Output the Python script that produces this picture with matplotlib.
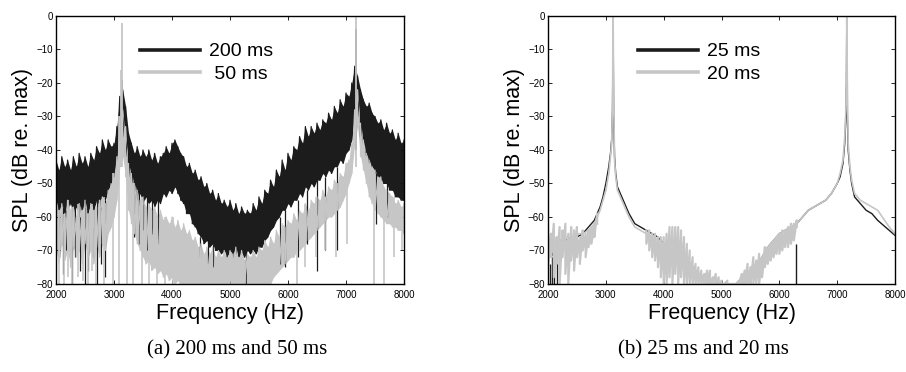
import numpy as np
import matplotlib
matplotlib.use('Agg')
import matplotlib.pyplot as plt

plt.rcParams['font.family'] = ['Liberation Sans', 'DejaVu Sans']

BLACK = '#1c1c1c'
GRAY = '#c6c6c6'

# ---------- (a) 200 ms / 50 ms : envelopes read every 50 Hz ----------
freq_a = list(range(2000, 8001, 50))

ms200_hi = [-43, -46, -42, -45, -43, -46, -42, -45, -41, -44,
            -42, -45, -41, -43, -39, -41, -37, -40, -37, -39,
            -38, -33, -24, -22, -27, -35, -38, -41, -39, -42,
            -40, -42, -40, -43, -41, -44, -42, -41, -39, -41,
            -38, -37, -39, -41, -42, -45, -44, -47, -46, -49,
            -48, -51, -50, -53, -52, -55, -53, -56, -55, -57,
            -55, -58, -56, -59, -57, -59, -58, -59, -56, -58,
            -54, -56, -52, -53, -49, -51, -46, -48, -43, -46,
            -41, -43, -39, -40, -36, -38, -33, -36, -33, -35,
            -32, -34, -31, -32, -29, -31, -27, -29, -25, -27,
            -23, -24, -20, -15, -18, -22, -25, -27, -26, -29,
            -30, -32, -31, -34, -32, -35, -34, -37, -35, -38, -37]
ms200_lo = [-56, -59, -57, -60, -58, -56, -59, -57, -60, -58,
            -57, -59, -56, -58, -55, -57, -54, -55, -52, -50,
            -48, -44, -38, -36, -42, -48, -51, -53, -55, -53,
            -56, -54, -56, -55, -57, -55, -56, -53, -54, -52,
            -53, -51, -53, -55, -56, -59, -59, -62, -63, -65,
            -66, -68, -67, -69, -68, -70, -70, -71, -70, -72,
            -70, -72, -71, -72, -71, -72, -70, -71, -70, -71,
            -69, -69, -67, -66, -64, -63, -61, -60, -58, -58,
            -56, -57, -55, -55, -53, -54, -51, -52, -50, -51,
            -49, -49, -47, -48, -46, -47, -45, -45, -43, -44,
            -41, -40, -37, -30, -30, -36, -39, -42, -44, -45,
            -47, -48, -49, -50, -50, -52, -52, -54, -54, -55, -55]
ms200_peaks_f = [3140, 7170]
ms200_peaks_db = [-19, -4]
ms200_dips_f = [2060, 2120, 2180, 2270, 2330, 2420, 2500, 2560, 2640,
                2700, 2770, 2840, 3350, 3430, 3500, 3570, 3660, 3760,
                4480, 4620, 4700, 5280, 5860, 5950, 6170, 6330, 6500,
                6640, 6840, 7520, 7700]
ms200_dips_db = [-72, -77, -70, -80, -72, -76, -80, -76, -72,
                 -80, -74, -78, -66, -68, -64, -70, -65, -68,
                 -72, -74, -75, -80, -74, -75, -72, -68, -76,
                 -70, -70, -62, -60]

ms50_hi = [-55, -58, -56, -59, -55, -58, -57, -60, -56, -58,
           -55, -59, -56, -58, -57, -55, -54, -56, -52, -50,
           -47, -42, -30, -28, -33, -44, -47, -50, -52, -55,
           -54, -57, -56, -58, -57, -60, -58, -61, -60, -62,
           -60, -63, -61, -64, -62, -65, -64, -67, -66, -69,
           -68, -71, -69, -71, -69, -72, -70, -72, -70, -72,
           -70, -71, -69, -72, -70, -73, -71, -72, -70, -72,
           -69, -70, -67, -69, -66, -68, -64, -66, -62, -63,
           -61, -62, -59, -61, -58, -59, -56, -58, -55, -56,
           -54, -55, -52, -54, -51, -52, -49, -50, -47, -48,
           -44, -43, -38, -28, -22, -32, -37, -41, -43, -45,
           -46, -48, -48, -51, -52, -53, -54, -56, -55, -57, -56]
ms50_lo = ([-70, -74, -68, -73, -70, -75, -69, -72, -70, -74,
            -68, -72, -70, -74, -69, -72, -68, -70, -65, -63,
            -60, -55, -45, -42, -48, -58, -62, -65, -68, -70,
            -72, -74, -73, -76, -75, -77, -76, -78, -77, -79,
            -78, -80, -79]
           + [-80] * 32
           + [-78, -77, -76, -75, -74, -73, -72, -72, -70, -70,
              -69, -68, -67, -66, -65, -64, -63, -62, -61, -60,
              -60, -59, -58, -57, -55, -53, -50, -47, -38, -33,
              -42, -46, -50, -54, -56, -58, -59, -60, -61, -62,
              -62, -63, -63, -64, -64, -65])
ms50_peaks_f = [3128, 3140, 7167]
ms50_peaks_db = [-16, -2, 0]
ms50_dips_f = [2050, 2130, 2210, 2280, 2380, 2470, 2560, 2620, 2690,
               2820, 2990, 3090, 3230, 3330, 3480, 3610, 3740, 3880,
               4010, 4130, 6160, 6300, 6480, 6640, 6830, 7010, 7490,
               7660, 7820, 7960]
ms50_dips_db = [-80, -80, -78, -80, -78, -79, -80, -76, -80,
                -80, -80, -80, -80, -80, -80, -80, -80, -80,
                -80, -80, -80, -75, -72, -70, -72, -68, -80,
                -80, -72, -70]

# ---------- (b) 25 ms / 20 ms : main curves ----------
freq_b = [2000, 2100, 2200, 2300, 2400, 2500, 2600, 2700, 2800, 2900,
          2950, 3000, 3050, 3080, 3100, 3115, 3125, 3135, 3150, 3170,
          3200, 3250, 3300, 3400, 3500, 3600, 3700, 3800, 3900, 4000,
          4100, 4200, 4300, 4400, 4500, 4600, 4700, 4800, 4900, 5000,
          5100, 5200, 5300, 5400, 5500, 5600, 5700, 5800, 5900, 6000,
          6100, 6200, 6300, 6400, 6500, 6600, 6700, 6800, 6900, 7000,
          7050, 7100, 7130, 7150, 7160, 7165, 7175, 7190, 7220, 7250,
          7300, 7400, 7500, 7600, 7700, 7800, 7900, 8000]
ms25_db = [-68, -72, -67, -67, -66, -66, -65, -63, -61, -57,
           -54, -50, -45, -41, -37, -28, -3, -30, -42, -47,
           -51, -53, -55, -59, -62, -63, -64, -65, -66, -68,
           -69, -70, -71, -73, -75, -77, -78, -80, -80, -80,
           -80, -80, -80, -80, -78, -75, -72, -69, -67, -65,
           -64, -63, -62, -60, -58, -57, -56, -55, -53, -50,
           -48, -44, -38, -30, -20, -2, -30, -40, -46, -50,
           -54, -56, -58, -59, -61, -62.5, -64, -65.5]
ms20_db = [-68, -70, -67, -66, -66, -65, -65, -64, -62, -58,
           -55, -52, -47, -42, -38, -26, 0, -24, -43, -48,
           -52, -54, -56, -60, -63, -64, -65, -66, -67, -68,
           -69, -70, -71, -73, -75, -77, -78, -80, -80, -80,
           -80, -80, -80, -80, -78, -75, -72, -69, -67, -65,
           -64, -63, -62, -60, -58, -57, -56, -55, -53, -50,
           -47, -43, -36, -28, -18, 0, -20, -38, -45, -49,
           -53, -55, -56, -57, -58, -60.5, -63, -65]
ms25_dips_f = [2030, 2060, 2110, 2150, 6280]
ms25_top_db = [-74, -72, -73, -70, -68]

# 20 ms noisy stretches, hi / lo read every 50 Hz
noise1_f = list(range(2000, 2851, 50))
noise1_hi = [-63, -65, -62, -66, -63, -64, -62, -65, -63, -64,
             -63, -66, -64, -65, -64, -63, -62, -59]
noise1_lo = [-75, -72, -78, -74, -80, -72, -77, -80, -73, -76,
             -72, -74, -70, -72, -69, -68, -66, -62]
noise2_f = list(range(3700, 6301, 50))
noise2_hi = [-64, -64, -65, -65, -66, -66, -66, -65, -63, -63,
             -63, -63, -64, -66, -68, -70, -72, -74, -75, -76,
             -77, -76, -76, -78, -77, -78, -79, -80, -79, -80,
             -80, -80, -79, -77, -76, -74, -75, -72, -73, -71,
             -72, -69, -69, -68, -67, -66, -65, -64, -64, -63,
             -62, -62, -61]
noise2_lo = [-68, -70, -72, -73, -75, -78, -80, -80, -78, -80,
             -77, -80, -78, -80, -80, -80, -80, -80, -80, -80,
             -80, -80, -80, -80, -80, -80, -80, -80, -80, -80,
             -80, -80, -80, -80, -80, -80, -80, -80, -80, -80,
             -78, -75, -74, -73, -72, -71, -71, -70, -69, -69,
             -68, -67, -63]

legend_a = ['200 ms', ' 50 ms']
legend_b = ['25 ms', '20 ms']
captions = ['(a) 200 ms and 50 ms', '(b) 25 ms and 20 ms']


def zigzag(f, hi, lo):
    xs = np.repeat(f, 2)
    ys = np.column_stack([hi, lo]).ravel()
    return xs, ys


def noisy(ax, f, hi, lo, color, lw):
    ax.fill_between(f, lo, hi, color=color, lw=0)
    xs, ys = zigzag(f, hi, lo)
    ax.plot(xs, ys, color=color, lw=lw)


def at(f, vals, freqs):
    f = np.asarray(f)
    return [vals[int(np.argmin(np.abs(f - q)))] for q in freqs]


def style(ax, labels, lx):
    ax.set_xlim(2000, 8000)
    ax.set_ylim(-80, 0)
    ax.set_xticks(range(2000, 8001, 1000))
    ax.set_yticks(range(-80, 1, 10))
    ax.tick_params(direction='in', top=True, right=True, length=3,
                   width=0.6, labelsize=7)
    ax.tick_params(axis='x', pad=4.5)
    ax.tick_params(axis='y', pad=2.5)
    for s in ax.spines.values():
        s.set_linewidth(1.0)
    ax.set_xlabel('Frequency (Hz)', fontsize=15.5, labelpad=2)
    ax.set_ylabel('SPL (dB re. max)', fontsize=15.5)
    ax.yaxis.set_label_coords(-0.066, 0.5)
    h1, = ax.plot([], [], color=BLACK, lw=2.6)
    h2, = ax.plot([], [], color=GRAY, lw=2.6)
    ax.legend([h1, h2], labels, loc='upper left', bbox_to_anchor=(lx, 0.90),
              frameon=False, fontsize=14, handlelength=3.1, handletextpad=0.45,
              labelspacing=0.25, borderpad=0, borderaxespad=0)


fig = plt.figure(figsize=(9.06, 3.72), dpi=100)
ax1 = fig.add_axes([0.0618, 0.2366, 0.3841, 0.7204])
ax2 = fig.add_axes([0.6049, 0.2366, 0.3830, 0.7204])

# (a)
noisy(ax1, freq_a, ms200_hi, ms200_lo, BLACK, 0.9)
ax1.vlines(ms200_dips_f, at(freq_a, ms200_lo, ms200_dips_f), ms200_dips_db,
           color=BLACK, lw=0.9)
ax1.vlines(ms200_peaks_f, -40, ms200_peaks_db, color=BLACK, lw=1.2)
noisy(ax1, freq_a, ms50_hi, ms50_lo, GRAY, 0.9)
ax1.vlines(ms50_dips_f, at(freq_a, ms50_hi, ms50_dips_f), ms50_dips_db,
           color=GRAY, lw=1.2)
ax1.vlines(ms50_peaks_f, -45, ms50_peaks_db, color=GRAY, lw=1.3)
style(ax1, legend_a, 0.24)

# (b)
ax2.plot(freq_b, ms25_db, color=BLACK, lw=1.0)
ax2.vlines(ms25_dips_f, ms25_top_db, -80, color=BLACK, lw=1.0)
xs, ys = zigzag(noise1_f, noise1_hi, noise1_lo)
ax2.plot(xs, ys, color=GRAY, lw=1.6)
xs, ys = zigzag(noise2_f, noise2_hi, noise2_lo)
ax2.plot(xs, ys, color=GRAY, lw=1.6)
ax2.plot(freq_b, ms20_db, color=GRAY, lw=1.2)
style(ax2, legend_b, 0.258)

for x, txt in zip([0.262, 0.776], captions):
    fig.text(x, 0.059, txt, ha='center', va='center', fontsize=15,
             family=['Liberation Serif', 'DejaVu Serif'])

fig.savefig('out.png', dpi=100)
